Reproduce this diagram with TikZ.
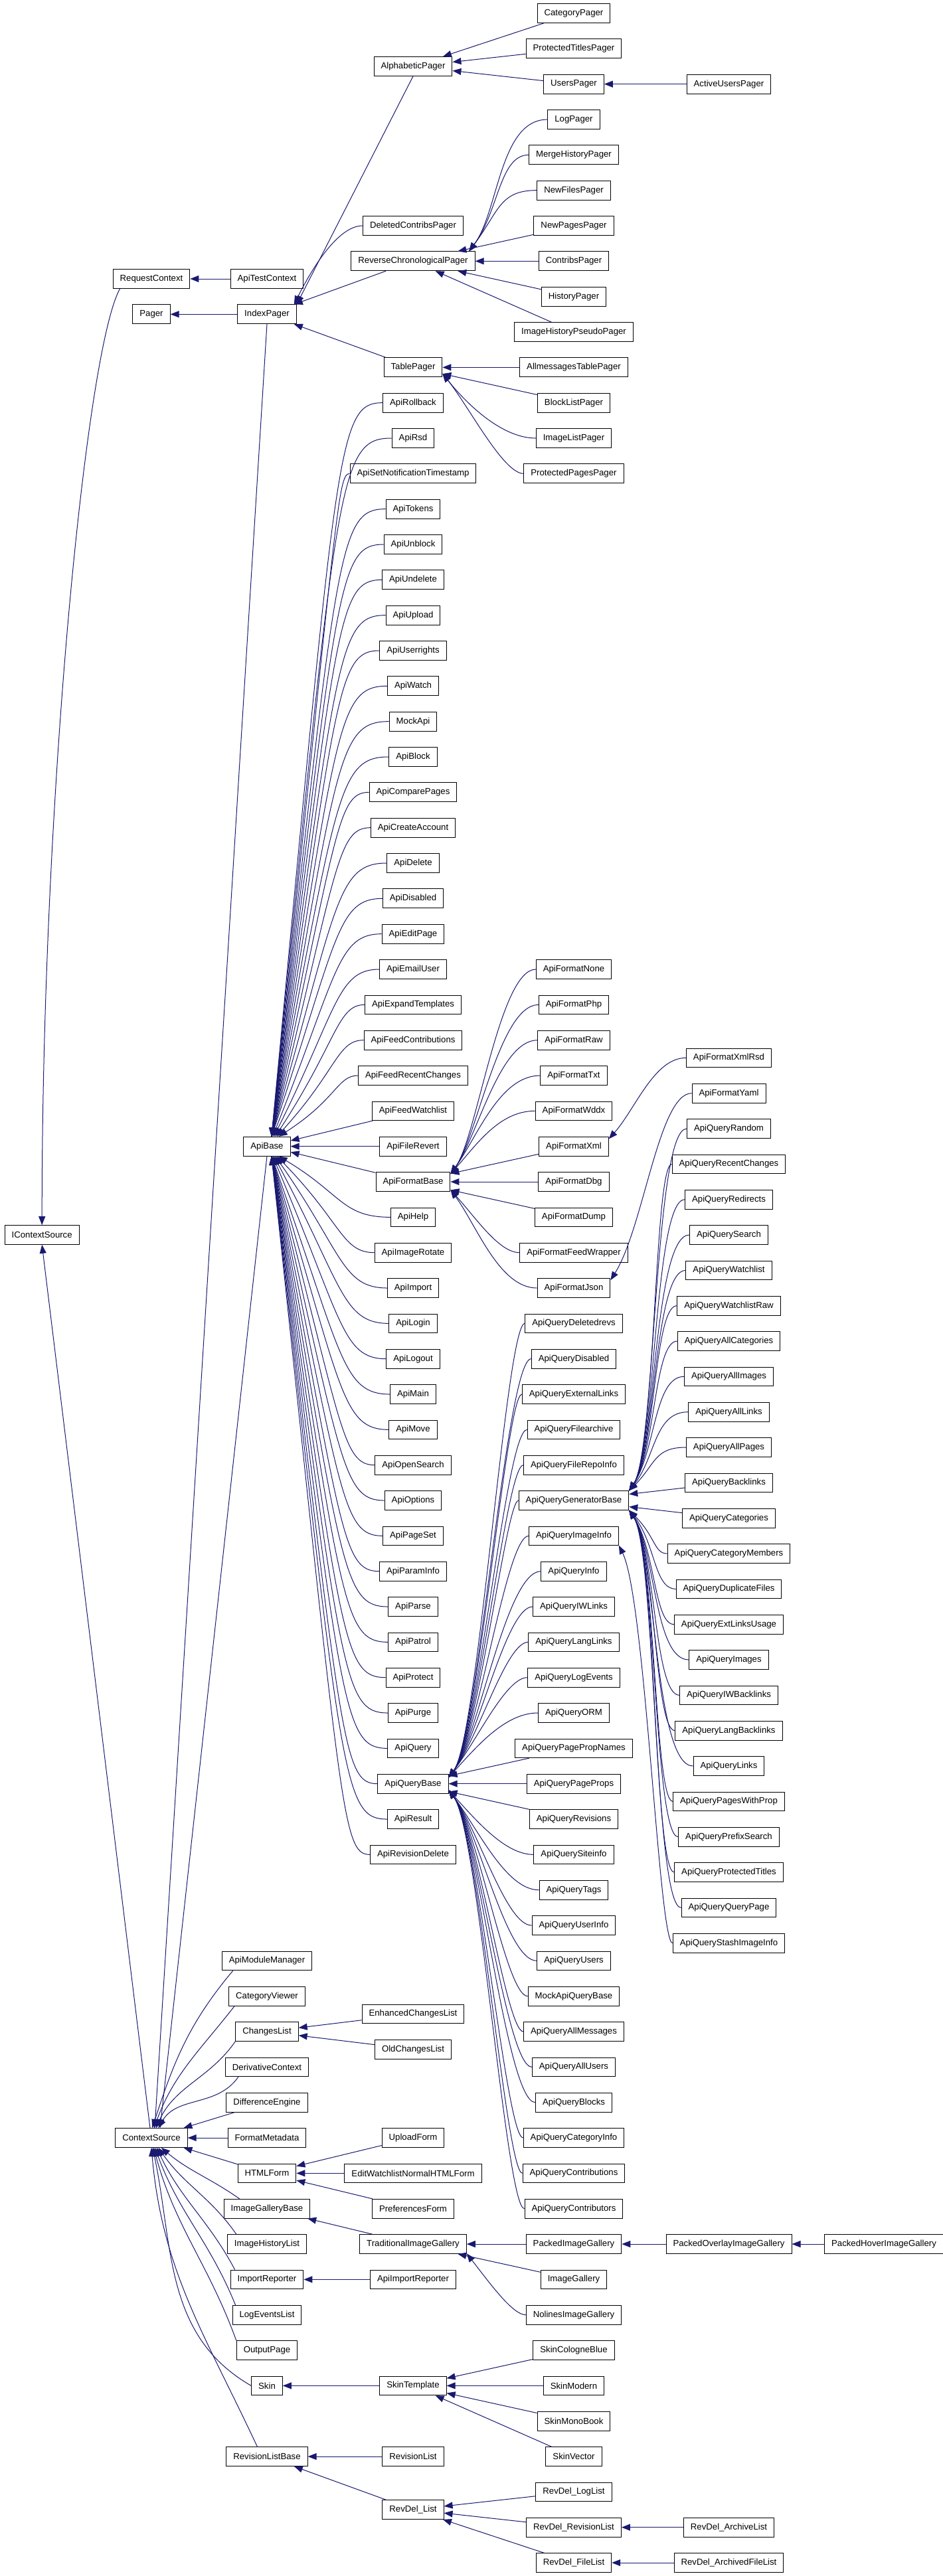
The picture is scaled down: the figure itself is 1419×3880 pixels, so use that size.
\documentclass[tikz,border=0pt]{standalone}
\usepackage{fontspec}
\setmainfont{Liberation Sans}
\usetikzlibrary{arrows.meta,calc}
\definecolor{edgecol}{RGB}{25,25,112}
\tikzset{
  cls/.style={draw=black, line width=1pt, fill=white, rectangle, minimum height=28.7pt,
    inner xsep=10.5pt, inner ysep=0pt, font=\fontsize{13.2}{15}\selectfont},
  edge/.style={draw=edgecol, line width=1pt, -{Triangle[length=13pt,width=10pt]}}
}
\newcommand\mkN[4]{\node[cls] (#1) at (#2,{-20-26.6667*(#3)}) {#4};}
\newcommand\eS[2]{\draw[edge] (#1) -- (#2);}
\newcommand\eC[4]{\draw[edge] (#1.west) .. controls (#1.west -| #3) and ($(#2)+(#4)$) .. (#2);}
\newcommand\eB[4]{\draw[edge] (#1.west) .. controls (#1.west -| #3) and ($(#1.west -| #3)+(0,#4)$) .. (#2);}
\begin{document}
\begin{tikzpicture}[x=1pt,y=1pt]
\useasboundingbox (0,0) rectangle (1419,-3880);
% bundle coordinates
\coordinate (bDCP) at (505,0);
\coordinate (bRCP) at (752,0);
\coordinate (bTP) at (758,0);
\coordinate (bABa) at (508,0);
\coordinate (bABb) at (515,0);
\coordinate (bAFB) at (752,0);
\coordinate (bAQB) at (762,0);
\coordinate (bAQG) at (985,0);
\coordinate (bXR) at (985,0);
\coordinate (bXY) at (992,0);
\coordinate (bSII) at (992,0);
\coordinate (bTIG) at (772,0);
% column 0-2
\mkN{IContextSource}{63.2}{69}{IContextSource}
\mkN{RequestContext}{228}{15}{RequestContext}
\mkN{Pager}{228}{17}{Pager}
\mkN{ContextSource}{228}{120}{ContextSource}
\mkN{ApiTestContext}{402}{15}{ApiTestContext}
\mkN{IndexPager}{402}{17}{IndexPager}
\mkN{ApiBase}{402}{64}{ApiBase}
\mkN{ApiModuleManager}{402}{110}{ApiModuleManager}
\mkN{CategoryViewer}{402}{112}{CategoryViewer}
\mkN{ChangesList}{402}{114}{ChangesList}
\mkN{DerivativeContext}{402}{116}{DerivativeContext}
\mkN{DifferenceEngine}{402}{118}{DifferenceEngine}
\mkN{FormatMetadata}{402}{120}{FormatMetadata}
\mkN{HTMLForm}{402}{122}{HTMLForm}
\mkN{ImageGalleryBase}{402}{124}{ImageGalleryBase}
\mkN{ImageHistoryList}{402}{126}{ImageHistoryList}
\mkN{ImportReporter}{402}{128}{ImportReporter}
\mkN{LogEventsList}{402}{130}{LogEventsList}
\mkN{OutputPage}{402}{132}{OutputPage}
\mkN{Skin}{402}{134}{Skin}
\mkN{RevisionListBase}{402}{138}{RevisionListBase}
% column 3
\mkN{AlphabeticPager}{622}{3}{AlphabeticPager}
\mkN{DeletedContribsPager}{622}{12}{DeletedContribsPager}
\mkN{ReverseChronologicalPager}{622}{14}{ReverseChronologicalPager}
\mkN{TablePager}{622}{20}{TablePager}
\mkN{ApiRollback}{622}{22}{ApiRollback}
\mkN{ApiRsd}{622}{24}{ApiRsd}
\mkN{ApiSetNotificationTimestamp}{622}{26}{ApiSetNotificationTimestamp}
\mkN{ApiTokens}{622}{28}{ApiTokens}
\mkN{ApiUnblock}{622}{30}{ApiUnblock}
\mkN{ApiUndelete}{622}{32}{ApiUndelete}
\mkN{ApiUpload}{622}{34}{ApiUpload}
\mkN{ApiUserrights}{622}{36}{ApiUserrights}
\mkN{ApiWatch}{622}{38}{ApiWatch}
\mkN{MockApi}{622}{40}{MockApi}
\mkN{ApiBlock}{622}{42}{ApiBlock}
\mkN{ApiComparePages}{622}{44}{ApiComparePages}
\mkN{ApiCreateAccount}{622}{46}{ApiCreateAccount}
\mkN{ApiDelete}{622}{48}{ApiDelete}
\mkN{ApiDisabled}{622}{50}{ApiDisabled}
\mkN{ApiEditPage}{622}{52}{ApiEditPage}
\mkN{ApiEmailUser}{622}{54}{ApiEmailUser}
\mkN{ApiExpandTemplates}{622}{56}{ApiExpandTemplates}
\mkN{ApiFeedContributions}{622}{58}{ApiFeedContributions}
\mkN{ApiFeedRecentChanges}{622}{60}{ApiFeedRecentChanges}
\mkN{ApiFeedWatchlist}{622}{62}{ApiFeedWatchlist}
\mkN{ApiFileRevert}{622}{64}{ApiFileRevert}
\mkN{ApiFormatBase}{622}{66}{ApiFormatBase}
\mkN{ApiHelp}{622}{68}{ApiHelp}
\mkN{ApiImageRotate}{622}{70}{ApiImageRotate}
\mkN{ApiImport}{622}{72}{ApiImport}
\mkN{ApiLogin}{622}{74}{ApiLogin}
\mkN{ApiLogout}{622}{76}{ApiLogout}
\mkN{ApiMain}{622}{78}{ApiMain}
\mkN{ApiMove}{622}{80}{ApiMove}
\mkN{ApiOpenSearch}{622}{82}{ApiOpenSearch}
\mkN{ApiOptions}{622}{84}{ApiOptions}
\mkN{ApiPageSet}{622}{86}{ApiPageSet}
\mkN{ApiParamInfo}{622}{88}{ApiParamInfo}
\mkN{ApiParse}{622}{90}{ApiParse}
\mkN{ApiPatrol}{622}{92}{ApiPatrol}
\mkN{ApiProtect}{622}{94}{ApiProtect}
\mkN{ApiPurge}{622}{96}{ApiPurge}
\mkN{ApiQuery}{622}{98}{ApiQuery}
\mkN{ApiQueryBase}{622}{100}{ApiQueryBase}
\mkN{ApiResult}{622}{102}{ApiResult}
\mkN{ApiRevisionDelete}{622}{104}{ApiRevisionDelete}
\mkN{EnhancedChangesList}{622}{113}{EnhancedChangesList}
\mkN{OldChangesList}{622}{115}{OldChangesList}
\mkN{UploadForm}{622}{120}{UploadForm}
\mkN{EditWatchlistNormalHTMLForm}{622}{122}{EditWatchlistNormalHTMLForm}
\mkN{PreferencesForm}{622}{124}{PreferencesForm}
\mkN{TraditionalImageGallery}{622}{126}{TraditionalImageGallery}
\mkN{ApiImportReporter}{622}{128}{ApiImportReporter}
\mkN{SkinTemplate}{622}{134}{SkinTemplate}
\mkN{RevisionList}{622}{138}{RevisionList}
\mkN{RevDelList}{622}{141}{RevDel\_List}
% column 4
\mkN{CategoryPager}{864}{0}{CategoryPager}
\mkN{ProtectedTitlesPager}{864}{2}{ProtectedTitlesPager}
\mkN{UsersPager}{864}{4}{UsersPager}
\mkN{LogPager}{864}{6}{LogPager}
\mkN{MergeHistoryPager}{864}{8}{MergeHistoryPager}
\mkN{NewFilesPager}{864}{10}{NewFilesPager}
\mkN{NewPagesPager}{864}{12}{NewPagesPager}
\mkN{ContribsPager}{864}{14}{ContribsPager}
\mkN{HistoryPager}{864}{16}{HistoryPager}
\mkN{ImageHistoryPseudoPager}{864}{18}{ImageHistoryPseudoPager}
\mkN{AllmessagesTablePager}{864}{20}{AllmessagesTablePager}
\mkN{BlockListPager}{864}{22}{BlockListPager}
\mkN{ImageListPager}{864}{24}{ImageListPager}
\mkN{ProtectedPagesPager}{864}{26}{ProtectedPagesPager}
\mkN{ApiFormatNone}{864}{54}{ApiFormatNone}
\mkN{ApiFormatPhp}{864}{56}{ApiFormatPhp}
\mkN{ApiFormatRaw}{864}{58}{ApiFormatRaw}
\mkN{ApiFormatTxt}{864}{60}{ApiFormatTxt}
\mkN{ApiFormatWddx}{864}{62}{ApiFormatWddx}
\mkN{ApiFormatXml}{864}{64}{ApiFormatXml}
\mkN{ApiFormatDbg}{864}{66}{ApiFormatDbg}
\mkN{ApiFormatDump}{864}{68}{ApiFormatDump}
\mkN{ApiFormatFeedWrapper}{864}{70}{ApiFormatFeedWrapper}
\mkN{ApiFormatJson}{864}{72}{ApiFormatJson}
\mkN{ApiQueryDeletedrevs}{864}{74}{ApiQueryDeletedrevs}
\mkN{ApiQueryDisabled}{864}{76}{ApiQueryDisabled}
\mkN{ApiQueryExternalLinks}{864}{78}{ApiQueryExternalLinks}
\mkN{ApiQueryFilearchive}{864}{80}{ApiQueryFilearchive}
\mkN{ApiQueryFileRepoInfo}{864}{82}{ApiQueryFileRepoInfo}
\mkN{ApiQueryGeneratorBase}{864}{84}{ApiQueryGeneratorBase}
\mkN{ApiQueryImageInfo}{864}{86}{ApiQueryImageInfo}
\mkN{ApiQueryInfo}{864}{88}{ApiQueryInfo}
\mkN{ApiQueryIWLinks}{864}{90}{ApiQueryIWLinks}
\mkN{ApiQueryLangLinks}{864}{92}{ApiQueryLangLinks}
\mkN{ApiQueryLogEvents}{864}{94}{ApiQueryLogEvents}
\mkN{ApiQueryORM}{864}{96}{ApiQueryORM}
\mkN{ApiQueryPagePropNames}{864}{98}{ApiQueryPagePropNames}
\mkN{ApiQueryPageProps}{864}{100}{ApiQueryPageProps}
\mkN{ApiQueryRevisions}{864}{102}{ApiQueryRevisions}
\mkN{ApiQuerySiteinfo}{864}{104}{ApiQuerySiteinfo}
\mkN{ApiQueryTags}{864}{106}{ApiQueryTags}
\mkN{ApiQueryUserInfo}{864}{108}{ApiQueryUserInfo}
\mkN{ApiQueryUsers}{864}{110}{ApiQueryUsers}
\mkN{MockApiQueryBase}{864}{112}{MockApiQueryBase}
\mkN{ApiQueryAllMessages}{864}{114}{ApiQueryAllMessages}
\mkN{ApiQueryAllUsers}{864}{116}{ApiQueryAllUsers}
\mkN{ApiQueryBlocks}{864}{118}{ApiQueryBlocks}
\mkN{ApiQueryCategoryInfo}{864}{120}{ApiQueryCategoryInfo}
\mkN{ApiQueryContributions}{864}{122}{ApiQueryContributions}
\mkN{ApiQueryContributors}{864}{124}{ApiQueryContributors}
\mkN{PackedImageGallery}{864}{126}{PackedImageGallery}
\mkN{ImageGallery}{864}{128}{ImageGallery}
\mkN{NolinesImageGallery}{864}{130}{NolinesImageGallery}
\mkN{SkinCologneBlue}{864}{132}{SkinCologneBlue}
\mkN{SkinModern}{864}{134}{SkinModern}
\mkN{SkinMonoBook}{864}{136}{SkinMonoBook}
\mkN{SkinVector}{864}{138}{SkinVector}
\mkN{RevDelLogList}{864}{140}{RevDel\_LogList}
\mkN{RevDelRevisionList}{864}{142}{RevDel\_RevisionList}
\mkN{RevDelFileList}{864}{144}{RevDel\_FileList}
% column 5-6
\mkN{ActiveUsersPager}{1097.5}{4}{ActiveUsersPager}
\mkN{ApiFormatXmlRsd}{1097.5}{59}{ApiFormatXmlRsd}
\mkN{ApiFormatYaml}{1097.5}{61}{ApiFormatYaml}
\mkN{ApiQueryRandom}{1097.5}{63}{ApiQueryRandom}
\mkN{ApiQueryRecentChanges}{1097.5}{65}{ApiQueryRecentChanges}
\mkN{ApiQueryRedirects}{1097.5}{67}{ApiQueryRedirects}
\mkN{ApiQuerySearch}{1097.5}{69}{ApiQuerySearch}
\mkN{ApiQueryWatchlist}{1097.5}{71}{ApiQueryWatchlist}
\mkN{ApiQueryWatchlistRaw}{1097.5}{73}{ApiQueryWatchlistRaw}
\mkN{ApiQueryAllCategories}{1097.5}{75}{ApiQueryAllCategories}
\mkN{ApiQueryAllImages}{1097.5}{77}{ApiQueryAllImages}
\mkN{ApiQueryAllLinks}{1097.5}{79}{ApiQueryAllLinks}
\mkN{ApiQueryAllPages}{1097.5}{81}{ApiQueryAllPages}
\mkN{ApiQueryBacklinks}{1097.5}{83}{ApiQueryBacklinks}
\mkN{ApiQueryCategories}{1097.5}{85}{ApiQueryCategories}
\mkN{ApiQueryCategoryMembers}{1097.5}{87}{ApiQueryCategoryMembers}
\mkN{ApiQueryDuplicateFiles}{1097.5}{89}{ApiQueryDuplicateFiles}
\mkN{ApiQueryExtLinksUsage}{1097.5}{91}{ApiQueryExtLinksUsage}
\mkN{ApiQueryImages}{1097.5}{93}{ApiQueryImages}
\mkN{ApiQueryIWBacklinks}{1097.5}{95}{ApiQueryIWBacklinks}
\mkN{ApiQueryLangBacklinks}{1097.5}{97}{ApiQueryLangBacklinks}
\mkN{ApiQueryLinks}{1097.5}{99}{ApiQueryLinks}
\mkN{ApiQueryPagesWithProp}{1097.5}{101}{ApiQueryPagesWithProp}
\mkN{ApiQueryPrefixSearch}{1097.5}{103}{ApiQueryPrefixSearch}
\mkN{ApiQueryProtectedTitles}{1097.5}{105}{ApiQueryProtectedTitles}
\mkN{ApiQueryQueryPage}{1097.5}{107}{ApiQueryQueryPage}
\mkN{ApiQueryStashImageInfo}{1097.5}{109}{ApiQueryStashImageInfo}
\mkN{PackedOverlayImageGallery}{1097.5}{126}{PackedOverlayImageGallery}
\mkN{RevDelArchiveList}{1097.5}{142}{RevDel\_ArchiveList}
\mkN{RevDelArchivedFileList}{1097.5}{144}{RevDel\_ArchivedFileList}
\mkN{PackedHoverImageGallery}{1331}{126}{PackedHoverImageGallery}
% ---------------- edges ----------------
\draw[edge] ($(RequestContext.south west)+(11,0)$) .. controls ($(RequestContext.south west)+(-40,-90)$) and ($(IContextSource.north)+(0,640)$) .. (IContextSource.north);
\draw[edge] ($(ContextSource.north)+(-2,0)$) -- (IContextSource.south);
\draw[edge] (IndexPager.south) -- ($(ContextSource.north)+(5,0)$);
\draw[edge] (ApiBase.south) -- ($(ContextSource.north)+(13,0)$);
\draw[edge] (AlphabeticPager.south) -- (IndexPager.north east);
\eS{ApiTestContext}{RequestContext}
\eS{IndexPager}{Pager}
\eS{CategoryPager}{AlphabeticPager}
\eS{ProtectedTitlesPager}{AlphabeticPager}
\eS{UsersPager}{AlphabeticPager}
\eS{ActiveUsersPager}{UsersPager}
\eS{ReverseChronologicalPager}{IndexPager}
\eS{TablePager}{IndexPager}
\eS{NewPagesPager}{ReverseChronologicalPager}
\eS{ContribsPager}{ReverseChronologicalPager}
\eS{HistoryPager}{ReverseChronologicalPager}
\eS{ImageHistoryPseudoPager}{ReverseChronologicalPager}
\eS{AllmessagesTablePager}{TablePager}
\eS{BlockListPager}{TablePager}
\eS{ApiFeedWatchlist}{ApiBase}
\eS{ApiFileRevert}{ApiBase}
\eS{ApiFormatBase}{ApiBase}
\eS{ApiFormatXml}{ApiFormatBase}
\eS{ApiFormatDbg}{ApiFormatBase}
\eS{ApiFormatDump}{ApiFormatBase}
\eS{ApiQueryPagePropNames}{ApiQueryBase}
\eS{ApiQueryPageProps}{ApiQueryBase}
\eS{ApiQueryRevisions}{ApiQueryBase}
\eS{ApiQueryBacklinks}{ApiQueryGeneratorBase}
\eS{ApiQueryCategories}{ApiQueryGeneratorBase}
\eS{EnhancedChangesList}{ChangesList}
\eS{OldChangesList}{ChangesList}
\eS{DifferenceEngine}{ContextSource}
\eS{FormatMetadata}{ContextSource}
\eS{HTMLForm}{ContextSource}
\eS{UploadForm}{HTMLForm}
\eS{EditWatchlistNormalHTMLForm}{HTMLForm}
\eS{PreferencesForm}{HTMLForm}
\eS{TraditionalImageGallery}{ImageGalleryBase}
\eS{PackedImageGallery}{TraditionalImageGallery}
\eS{ImageGallery}{TraditionalImageGallery}
\eS{PackedOverlayImageGallery}{PackedImageGallery}
\eS{PackedHoverImageGallery}{PackedOverlayImageGallery}
\eS{ApiImportReporter}{ImportReporter}
\eS{SkinTemplate}{Skin}
\eS{SkinCologneBlue}{SkinTemplate}
\eS{SkinModern}{SkinTemplate}
\eS{SkinMonoBook}{SkinTemplate}
\eS{SkinVector}{SkinTemplate}
\eS{RevisionList}{RevisionListBase}
\eS{RevDelList}{RevisionListBase}
\eS{RevDelLogList}{RevDelList}
\eS{RevDelRevisionList}{RevDelList}
\eS{RevDelFileList}{RevDelList}
\eS{RevDelArchiveList}{RevDelRevisionList}
\eS{RevDelArchivedFileList}{RevDelFileList}
% curved: pagers
\eC{DeletedContribsPager}{IndexPager.20}{bDCP}{20,40}
\eC{LogPager}{ReverseChronologicalPager.10}{bRCP}{45,60}
\eC{MergeHistoryPager}{ReverseChronologicalPager.10}{bRCP}{45,60}
\eC{NewFilesPager}{ReverseChronologicalPager.10}{bRCP}{45,60}
\eC{ImageListPager}{TablePager.-12}{bTP}{40,-50}
\eC{ProtectedPagesPager}{TablePager.-12}{bTP}{40,-50}
% curved: ApiBase children above
\eB{ApiRollback}{ApiBase.65}{bABa}{-60}
\eB{ApiRsd}{ApiBase.65}{bABa}{-60}
\eB{ApiSetNotificationTimestamp}{ApiBase.65}{bABa}{-60}
\eB{ApiTokens}{ApiBase.65}{bABa}{-60}
\eB{ApiUnblock}{ApiBase.65}{bABa}{-60}
\eB{ApiUndelete}{ApiBase.65}{bABa}{-60}
\eB{ApiUpload}{ApiBase.65}{bABa}{-60}
\eB{ApiUserrights}{ApiBase.65}{bABa}{-60}
\eB{ApiWatch}{ApiBase.65}{bABa}{-60}
\eB{MockApi}{ApiBase.65}{bABa}{-60}
\eB{ApiBlock}{ApiBase.65}{bABa}{-60}
\eB{ApiComparePages}{ApiBase.65}{bABa}{-60}
\eB{ApiCreateAccount}{ApiBase.65}{bABa}{-60}
\eB{ApiDelete}{ApiBase.65}{bABa}{-60}
\eB{ApiDisabled}{ApiBase.65}{bABa}{-60}
\eB{ApiEditPage}{ApiBase.60}{bABa}{-60}
\eB{ApiEmailUser}{ApiBase.55}{bABa}{-60}
\eB{ApiExpandTemplates}{ApiBase.50}{bABa}{-55}
\eB{ApiFeedContributions}{ApiBase.45}{bABa}{-45}
\eB{ApiFeedRecentChanges}{ApiBase.40}{bABa}{-35}
% curved: ApiBase children below
\eB{ApiHelp}{ApiBase.-40}{bABb}{35}
\eB{ApiImageRotate}{ApiBase.-45}{bABb}{45}
\eB{ApiImport}{ApiBase.-50}{bABb}{55}
\eB{ApiLogin}{ApiBase.-55}{bABb}{60}
\eB{ApiLogout}{ApiBase.-60}{bABb}{60}
\eB{ApiMain}{ApiBase.-65}{bABb}{60}
\eB{ApiMove}{ApiBase.-65}{bABb}{60}
\eB{ApiOpenSearch}{ApiBase.-65}{bABb}{60}
\eB{ApiOptions}{ApiBase.-65}{bABb}{60}
\eB{ApiPageSet}{ApiBase.-65}{bABb}{60}
\eB{ApiParamInfo}{ApiBase.-65}{bABb}{60}
\eB{ApiParse}{ApiBase.-65}{bABb}{60}
\eB{ApiPatrol}{ApiBase.-65}{bABb}{60}
\eB{ApiProtect}{ApiBase.-65}{bABb}{60}
\eB{ApiPurge}{ApiBase.-65}{bABb}{60}
\eB{ApiQuery}{ApiBase.-65}{bABb}{60}
\eB{ApiQueryBase}{ApiBase.-65}{bABb}{60}
\eB{ApiResult}{ApiBase.-65}{bABb}{60}
\eB{ApiRevisionDelete}{ApiBase.-65}{bABb}{60}
% ApiFormatBase children
\eC{ApiFormatNone}{ApiFormatBase.12}{bAFB}{40,55}
\eC{ApiFormatPhp}{ApiFormatBase.12}{bAFB}{40,55}
\eC{ApiFormatRaw}{ApiFormatBase.12}{bAFB}{40,55}
\eC{ApiFormatTxt}{ApiFormatBase.12}{bAFB}{40,55}
\eC{ApiFormatWddx}{ApiFormatBase.12}{bAFB}{40,45}
\eC{ApiFormatFeedWrapper}{ApiFormatBase.-12}{bAFB}{40,-45}
\eC{ApiFormatJson}{ApiFormatBase.-12}{bAFB}{40,-55}
\eC{ApiFormatXmlRsd}{ApiFormatXml.12}{bXR}{40,45}
\eC{ApiFormatYaml}{ApiFormatJson.12}{bXY}{50,80}
% ApiQueryBase children
\eC{ApiQueryDeletedrevs}{ApiQueryBase.10}{bAQB}{45,60}
\eC{ApiQueryDisabled}{ApiQueryBase.10}{bAQB}{45,60}
\eC{ApiQueryExternalLinks}{ApiQueryBase.10}{bAQB}{45,60}
\eC{ApiQueryFilearchive}{ApiQueryBase.10}{bAQB}{45,60}
\eC{ApiQueryFileRepoInfo}{ApiQueryBase.10}{bAQB}{45,60}
\eC{ApiQueryGeneratorBase}{ApiQueryBase.10}{bAQB}{45,60}
\eC{ApiQueryImageInfo}{ApiQueryBase.10}{bAQB}{45,60}
\eC{ApiQueryInfo}{ApiQueryBase.10}{bAQB}{45,60}
\eC{ApiQueryIWLinks}{ApiQueryBase.10}{bAQB}{45,60}
\eC{ApiQueryLangLinks}{ApiQueryBase.10}{bAQB}{45,60}
\eC{ApiQueryLogEvents}{ApiQueryBase.10}{bAQB}{45,60}
\eC{ApiQueryORM}{ApiQueryBase.10}{bAQB}{45,50}
\eC{ApiQuerySiteinfo}{ApiQueryBase.-10}{bAQB}{45,-50}
\eC{ApiQueryTags}{ApiQueryBase.-10}{bAQB}{45,-60}
\eC{ApiQueryUserInfo}{ApiQueryBase.-10}{bAQB}{45,-60}
\eC{ApiQueryUsers}{ApiQueryBase.-10}{bAQB}{45,-60}
\eC{MockApiQueryBase}{ApiQueryBase.-10}{bAQB}{45,-60}
\eC{ApiQueryAllMessages}{ApiQueryBase.-10}{bAQB}{45,-60}
\eC{ApiQueryAllUsers}{ApiQueryBase.-10}{bAQB}{45,-60}
\eC{ApiQueryBlocks}{ApiQueryBase.-10}{bAQB}{45,-60}
\eC{ApiQueryCategoryInfo}{ApiQueryBase.-10}{bAQB}{45,-60}
\eC{ApiQueryContributions}{ApiQueryBase.-10}{bAQB}{45,-60}
\eC{ApiQueryContributors}{ApiQueryBase.-10}{bAQB}{45,-60}
% ApiQueryGeneratorBase children
\eC{ApiQueryRandom}{ApiQueryGeneratorBase.10}{bAQG}{40,60}
\eC{ApiQueryRecentChanges}{ApiQueryGeneratorBase.10}{bAQG}{40,60}
\eC{ApiQueryRedirects}{ApiQueryGeneratorBase.10}{bAQG}{40,60}
\eC{ApiQuerySearch}{ApiQueryGeneratorBase.10}{bAQG}{40,60}
\eC{ApiQueryWatchlist}{ApiQueryGeneratorBase.10}{bAQG}{40,60}
\eC{ApiQueryWatchlistRaw}{ApiQueryGeneratorBase.10}{bAQG}{40,60}
\eC{ApiQueryAllCategories}{ApiQueryGeneratorBase.10}{bAQG}{40,60}
\eC{ApiQueryAllImages}{ApiQueryGeneratorBase.10}{bAQG}{40,60}
\eC{ApiQueryAllLinks}{ApiQueryGeneratorBase.10}{bAQG}{40,50}
\eC{ApiQueryAllPages}{ApiQueryGeneratorBase.10}{bAQG}{40,40}
\eC{ApiQueryCategoryMembers}{ApiQueryGeneratorBase.-10}{bAQG}{40,-40}
\eC{ApiQueryDuplicateFiles}{ApiQueryGeneratorBase.-10}{bAQG}{40,-50}
\eC{ApiQueryExtLinksUsage}{ApiQueryGeneratorBase.-10}{bAQG}{40,-60}
\eC{ApiQueryImages}{ApiQueryGeneratorBase.-10}{bAQG}{40,-60}
\eC{ApiQueryIWBacklinks}{ApiQueryGeneratorBase.-10}{bAQG}{40,-60}
\eC{ApiQueryLangBacklinks}{ApiQueryGeneratorBase.-10}{bAQG}{40,-60}
\eC{ApiQueryLinks}{ApiQueryGeneratorBase.-10}{bAQG}{40,-60}
\eC{ApiQueryPagesWithProp}{ApiQueryGeneratorBase.-10}{bAQG}{40,-60}
\eC{ApiQueryPrefixSearch}{ApiQueryGeneratorBase.-10}{bAQG}{40,-60}
\eC{ApiQueryProtectedTitles}{ApiQueryGeneratorBase.-10}{bAQG}{40,-60}
\eC{ApiQueryQueryPage}{ApiQueryGeneratorBase.-10}{bAQG}{40,-60}
\eC{ApiQueryStashImageInfo}{ApiQueryImageInfo.-12}{bSII}{40,-80}
% image galleries
\eC{NolinesImageGallery}{TraditionalImageGallery.-10}{bTIG}{35,-45}
% ContextSource children
\draw[edge] ($(ApiModuleManager.south west)+(17,0)$) to[out=-130,in=72] (ContextSource.85);
\draw[edge] ($(CategoryViewer.south west)+(9,0)$) to[out=-128,in=70] (ContextSource.75);
\draw[edge] (ChangesList.south west) to[out=-125,in=66] (ContextSource.65);
\draw[edge] ($(DerivativeContext.south west)+(20,0)$) to[out=-125,in=60] (ContextSource.55);
\draw[edge] ($(ImageGalleryBase.north west)+(24,0)$) to[out=145,in=-40] (ContextSource.-45);
\draw[edge] ($(ImageHistoryList.north west)+(14,0)$) to[out=125,in=-55] (ContextSource.-55);
\draw[edge] ($(ImportReporter.north west)+(7,0)$) to[out=118,in=-65] (ContextSource.-62);
\draw[edge] ($(LogEventsList.north west)+(5,0)$) to[out=112,in=-70] (ContextSource.-70);
\draw[edge] (OutputPage.north west) to[out=110,in=-75] (ContextSource.-77);
\draw[edge] (Skin.west) to[out=150,in=-78] (ContextSource.-83);
\draw[edge] ($(RevisionListBase.north west)+(47,0)$) to[out=115,in=-85] (ContextSource.-90);
\end{tikzpicture}
\end{document}
